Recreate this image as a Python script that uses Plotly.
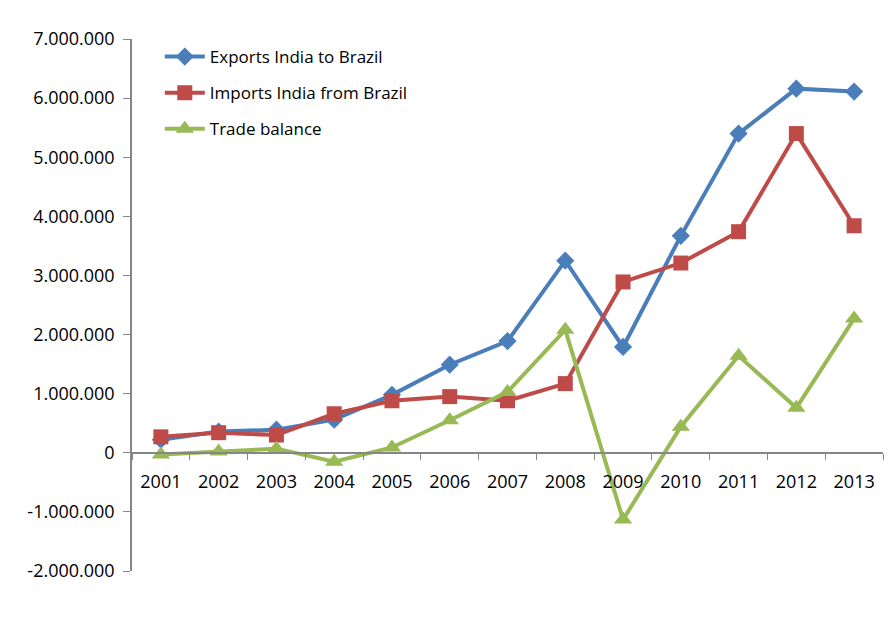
import plotly.graph_objects as go

years = [str(y) for y in range(2001, 2014)]
exports = [220000, 360000, 390000, 560000, 980000, 1490000, 1890000,
           3250000, 1790000, 3670000, 5400000, 6160000, 6110000]
imports = [270000, 340000, 300000, 660000, 880000, 950000, 880000,
           1170000, 2890000, 3210000, 3740000, 5400000, 3840000]
balance = [-30000, 20000, 70000, -150000, 90000, 550000, 1030000,
           2080000, -1130000, 440000, 1640000, 760000, 2270000]
y_ticks = [-2000000, -1000000, 0, 1000000, 2000000, 3000000, 4000000,
           5000000, 6000000, 7000000]
y_labels = ["-2.000.000", "-1.000.000", "0", "1.000.000", "2.000.000",
            "3.000.000", "4.000.000", "5.000.000", "6.000.000", "7.000.000"]

FONT = dict(family="'Open Sans', sans-serif", size=17, color="#000")
TICKFONT = dict(family="'Open Sans', sans-serif", size=18, color="#000")
AX = "#868686"

fig = go.Figure()
fig.add_trace(go.Scatter(x=years, y=exports, name="Exports India to Brazil",
                         mode="lines+markers", legendgroup="a",
                         line=dict(color="#4A7EBB", width=4),
                         marker=dict(symbol="diamond", size=14, color="#4A7EBB")))
fig.add_trace(go.Scatter(x=years, y=imports, name="Imports India from Brazil",
                         mode="lines+markers", legendgroup="b",
                         line=dict(color="#BE4B48", width=4),
                         marker=dict(symbol="square", size=15, color="#BE4B48")))
fig.add_trace(go.Scatter(x=years, y=balance, name="Trade balance",
                         mode="lines+markers", legendgroup="c",
                         line=dict(color="#98B954", width=4),
                         marker=dict(symbol="triangle-up", size=16, color="#98B954")))

# page body has an 8px margin, so the figure is 8px smaller than the window
fig.update_layout(
    width=887, height=609,
    margin=dict(l=124, r=12, t=31, b=46),
    paper_bgcolor="white", plot_bgcolor="white",
    font=FONT, showlegend=True, hovermode=False,
    legend=dict(x=0.037, y=1.0, xanchor="left", yanchor="top",
                bgcolor="rgba(0,0,0,0)", font=FONT, tracegroupgap=11,
                itemwidth=40),
    xaxis=dict(type="category", range=[-0.5, 12.5], anchor="free", position=2 / 9,
               showline=True, linecolor=AX, linewidth=1.5,
               ticks="outside", tickson="boundaries", ticklen=6, tickcolor=AX,
               ticklabelstandoff=13,
               showgrid=False, zeroline=False, tickfont=TICKFONT),
    yaxis=dict(range=[-2000000, 7000000], tickvals=y_ticks, ticktext=y_labels,
               showline=True, linecolor=AX, linewidth=1.5,
               ticks="outside", ticklen=7, tickcolor=AX,
               ticklabelstandoff=5,
               showgrid=False, zeroline=False, tickfont=TICKFONT),
)

fig.write_html("out.html")
